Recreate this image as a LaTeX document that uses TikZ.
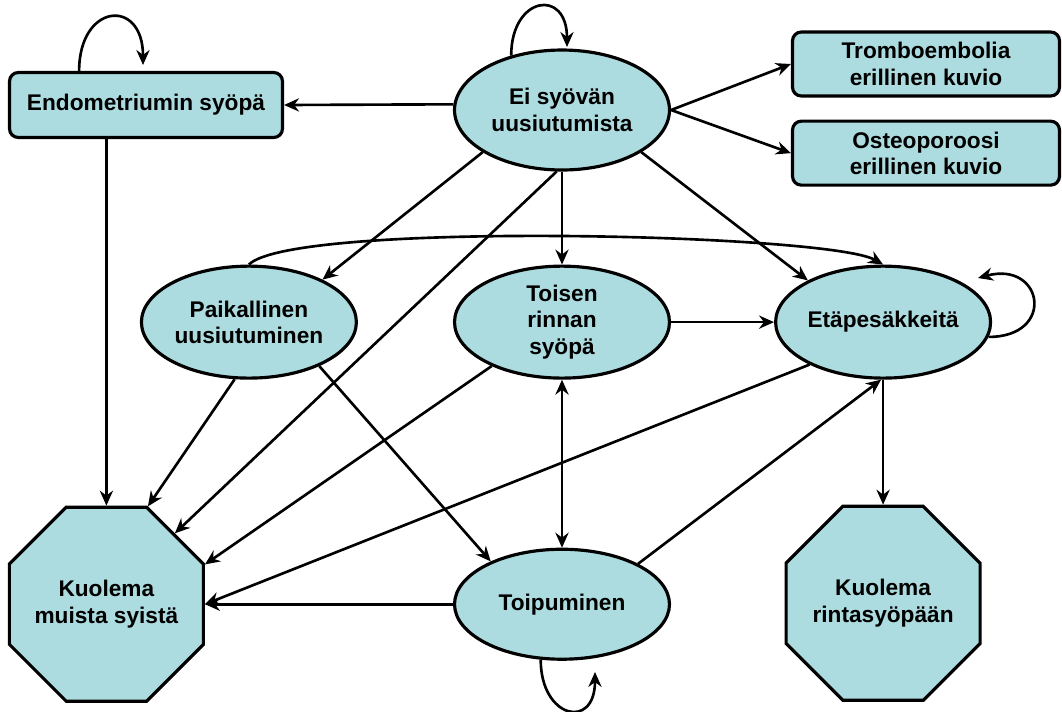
\documentclass[tikz,border=0pt]{standalone}
\usepackage{fontspec}
\setmainfont{Liberation Sans}
\usetikzlibrary{positioning}
\usetikzlibrary{shapes.geometric}
\usetikzlibrary{arrows.meta}
\definecolor{statefill}{RGB}{172,220,224}

\begin{document}
\begin{tikzpicture}[x=0.02cm, y=0.02cm, ->, >={Stealth[length=8.5pt,width=7.5pt]}, line width=1.5pt,
  mybox/.style={rectangle, rounded corners=5pt, draw, fill=statefill, line width=1.8pt, align=center},
  myoval/.style={ellipse, draw, fill=statefill, line width=1.8pt, align=center, inner sep=0pt, minimum width=4.3cm, minimum height=2.24cm},
  myoct/.style={regular polygon, regular polygon sides=8, draw, fill=statefill, line width=1.8pt, align=center, inner sep=-3pt, minimum size=4.2cm},
  every node/.style={font=\bfseries\fontsize{12.9}{15}\selectfont}]

  \useasboundingbox (0,0) rectangle (1062,-711);

  \node[myoval, minimum height=2.4cm] (ei) at (562,-110) {Ei syövän\\uusiutumista};
  \node[mybox, minimum width=5.46cm, minimum height=1.3cm] (endo) at (146,-105) {Endometriumin syöpä};
  \node[mybox, minimum width=5.34cm, minimum height=1.28cm] (trombo) at (926,-64) {Tromboembolia\\erillinen kuvio};
  \node[mybox, minimum width=5.34cm, minimum height=1.28cm] (osteo) [below = 0.44cm of trombo] {Osteoporoosi\\erillinen kuvio};
  \node[myoval] (toisen) [below = 1.86cm of ei] {Toisen\\rinnan\\syöpä};
  \node[myoval] (paik) [left = 1.9cm of toisen] {Paikallinen\\uusiutuminen};
  \node[myoval] (eta) [right = 2.06cm of toisen] {Etäpesäkkeitä};
  \node[myoval, minimum height=2.2cm] (toip) [below = 3.36cm of toisen] {Toipuminen};
  \node[myoct] (kuolm) [left = 4.96cm of toip] {Kuolema\\muista syistä};
  \node[myoct] (kuolr) [below = 2.5cm of eta] {Kuolema\\rintasyöpään};
  \coordinate (endotip) at (143,-65);
  \coordinate (eitip) at (567,-47);
  \coordinate (etatip) at (978,-278);
  \coordinate (toiptip) at (595,-672);

  \path
    (endo.153) edge[out=90, in=90, looseness=2.7] (endotip)
    (ei.133) edge[out=90, in=90, looseness=2.7] (eitip)
    (eta.352) edge[out=0, in=15, looseness=2.9] (etatip)
    (toip.249) edge[out=-90, in=-90, looseness=2.7] (toiptip)
    (ei.177) edge (endo.east)
    (ei.east) edge (trombo.west)
    (ei.east) edge (osteo.west)
    (ei.208) edge (paik.30)
    (ei.south) edge (toisen.north)
    (ei.332) edge (eta.151)
    (ei.265) edge (kuolm.46)
    (endo.south -| kuolm.north) edge (kuolm.north)
    (paik.north) edge[out=45, in=150, looseness=0.25] (eta.north)
    (paik.256) edge (kuolm.67)
    (paik.328) edge (toip.149)
    (toisen.east) edge (eta.west)
    (toisen.212) edge (kuolm.22)
    (toisen.south) edge[<->] (toip.north)
    (eta.210) edge (kuolm.east)
    (eta.south) edge (kuolr.north)
    (toip.28) edge (eta.268)
    (toip.west) edge (kuolm.east)
  ;
\end{tikzpicture}
\end{document}
